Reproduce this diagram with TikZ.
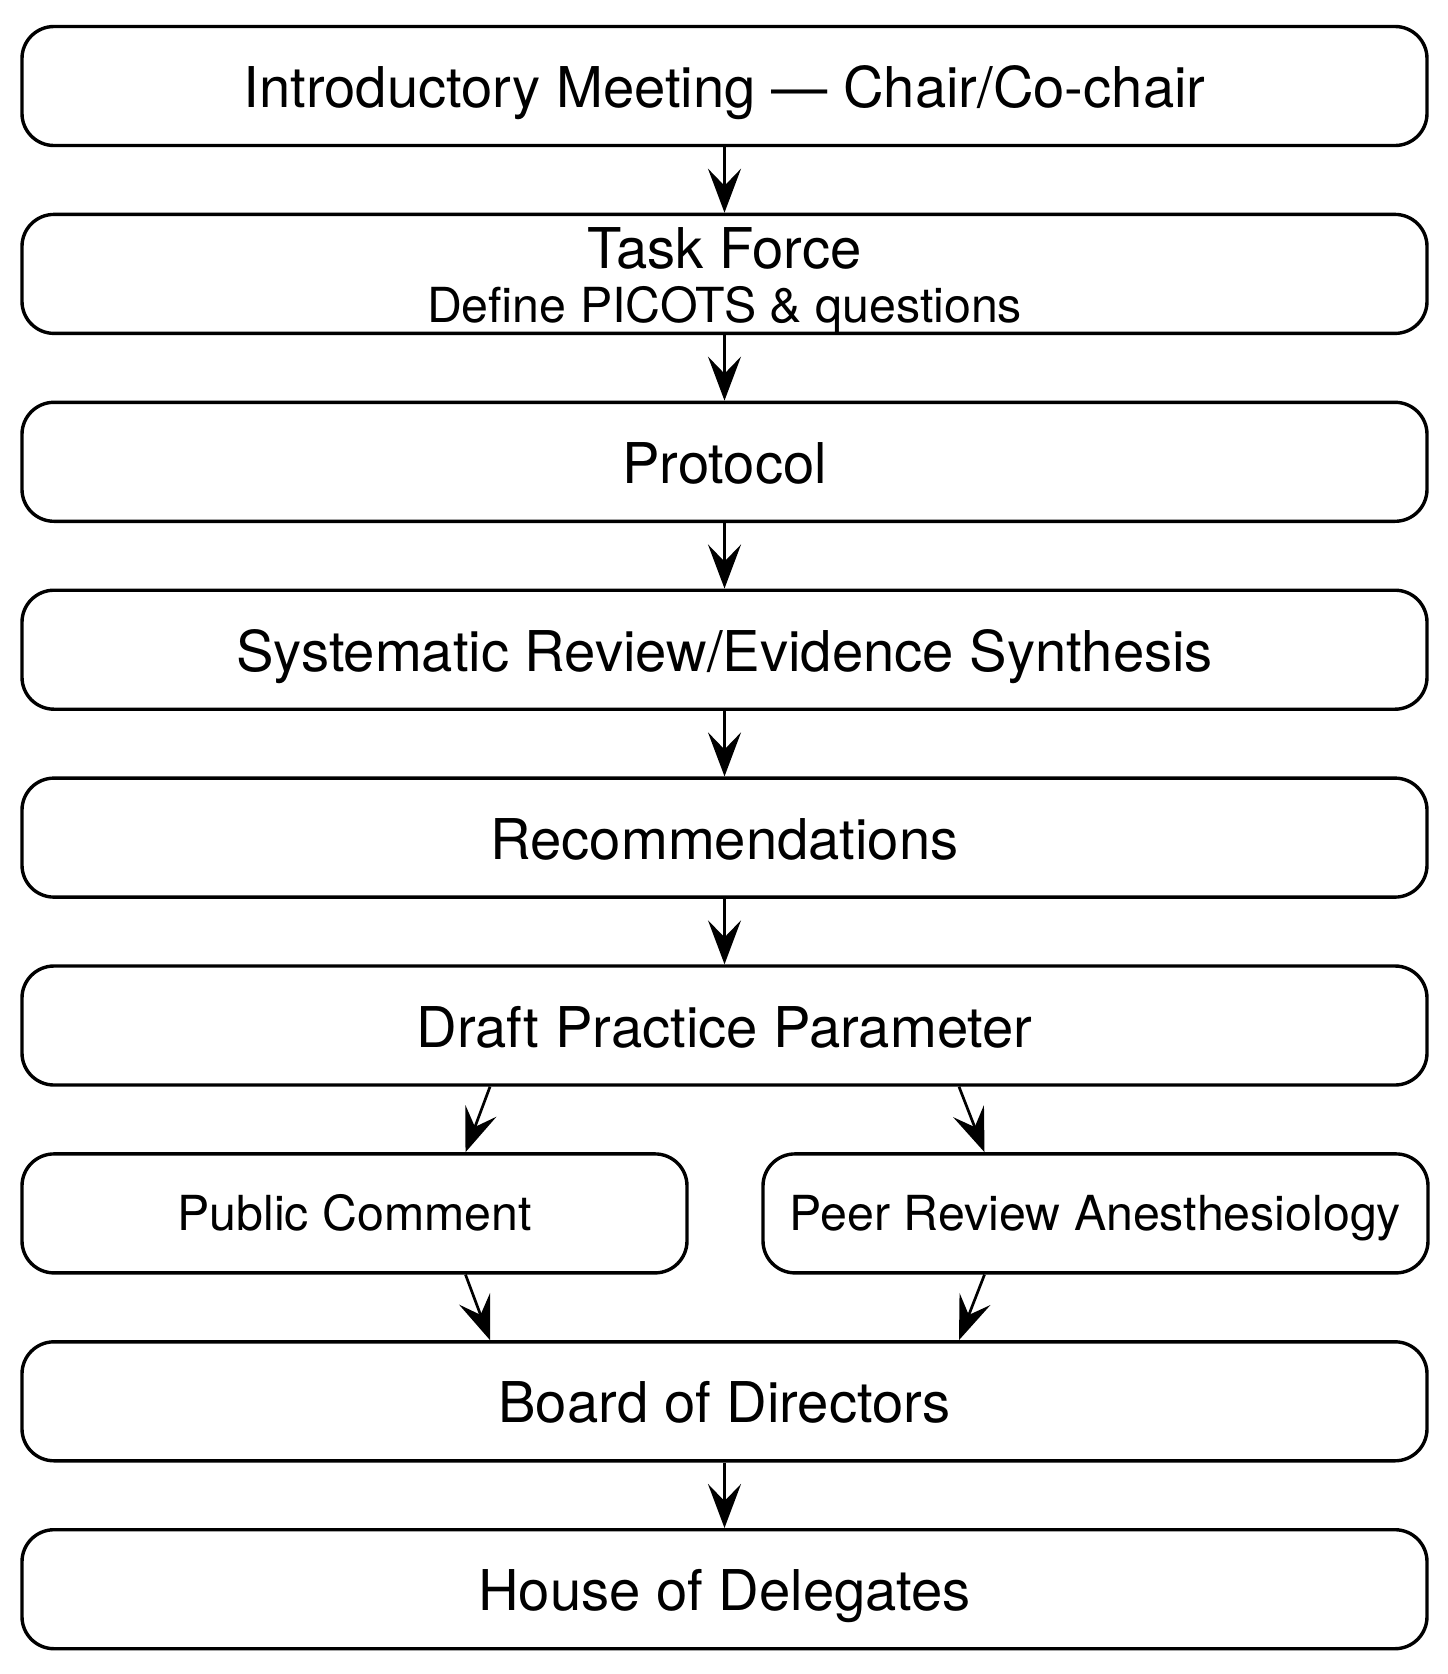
\documentclass[tikz,border=0pt]{standalone}
\usepackage{fontspec}
\setmainfont{TeX Gyre Heros}
\usetikzlibrary{arrows.meta}
\begin{document}
\begin{tikzpicture}[x=1pt,y=1pt,
  box/.style={draw=black, line width=3.4pt, rounded corners=32pt, fill=white,
    minimum width=1405pt, minimum height=119pt, inner sep=0pt,
    font=\fontsize{56.2}{60}\selectfont, text height=43pt, text depth=0pt},
  halfbox/.style={box, minimum width=665pt,
    font=\fontsize{48.3}{52}\selectfont, text height=34pt, text depth=0pt},
  lbl/.style={inner sep=0pt, anchor=base},
  flow/.style={draw=black, line width=2.7pt,
    -{Stealth[length=44pt, width=33pt, inset=17pt]}}
]
\useasboundingbox (0,0) rectangle (1448,-1674);
\node[box] (intro) at (724.5,-86) {Introductory Meeting — Chair/Co-chair};
\node[box] (tf) at (724.5,-273.9) {};
\node[lbl, font=\fontsize{56.2}{60}\selectfont] (tft) at ([yshift=5pt]tf.center) {Task Force};
\node[lbl, font=\fontsize{48.3}{52}\selectfont] (tfs) at ([yshift=-49pt]tf.center) {Define PICOTS \& questions};
\node[box] (prot) at (724.5,-461.8) {Protocol};
\node[box] (sr) at (724.5,-649.7) {Systematic Review/Evidence Synthesis};
\node[box] (rec) at (724.5,-837.6) {Recommendations};
\node[box] (draft) at (724.5,-1025.5) {Draft Practice Parameter};
\node[halfbox] (pc) at (354.5,-1213.4) {Public Comment};
\node[halfbox] (pr) at (1095.5,-1213.4) {Peer Review Anesthesiology};
\node[box] (bod) at (724.5,-1401.3) {Board of Directors};
\node[box] (hod) at (724.5,-1589.2) {House of Delegates};
\draw[flow] (intro.south) -- (tf.north);
\draw[flow] (tf.south) -- (prot.north);
\draw[flow] (prot.south) -- (sr.north);
\draw[flow] (sr.south) -- (rec.north);
\draw[flow] (rec.south) -- (draft.north);
\draw[flow] ([xshift=-234.5pt]draft.south) -- ([xshift=111pt]pc.north);
\draw[flow] ([xshift=234.5pt]draft.south) -- ([xshift=-111pt]pr.north);
\draw[flow] ([xshift=111pt]pc.south) -- ([xshift=-234.5pt]bod.north);
\draw[flow] ([xshift=-111pt]pr.south) -- ([xshift=234.5pt]bod.north);
\draw[flow] (bod.south) -- (hod.north);
\end{tikzpicture}
\end{document}
